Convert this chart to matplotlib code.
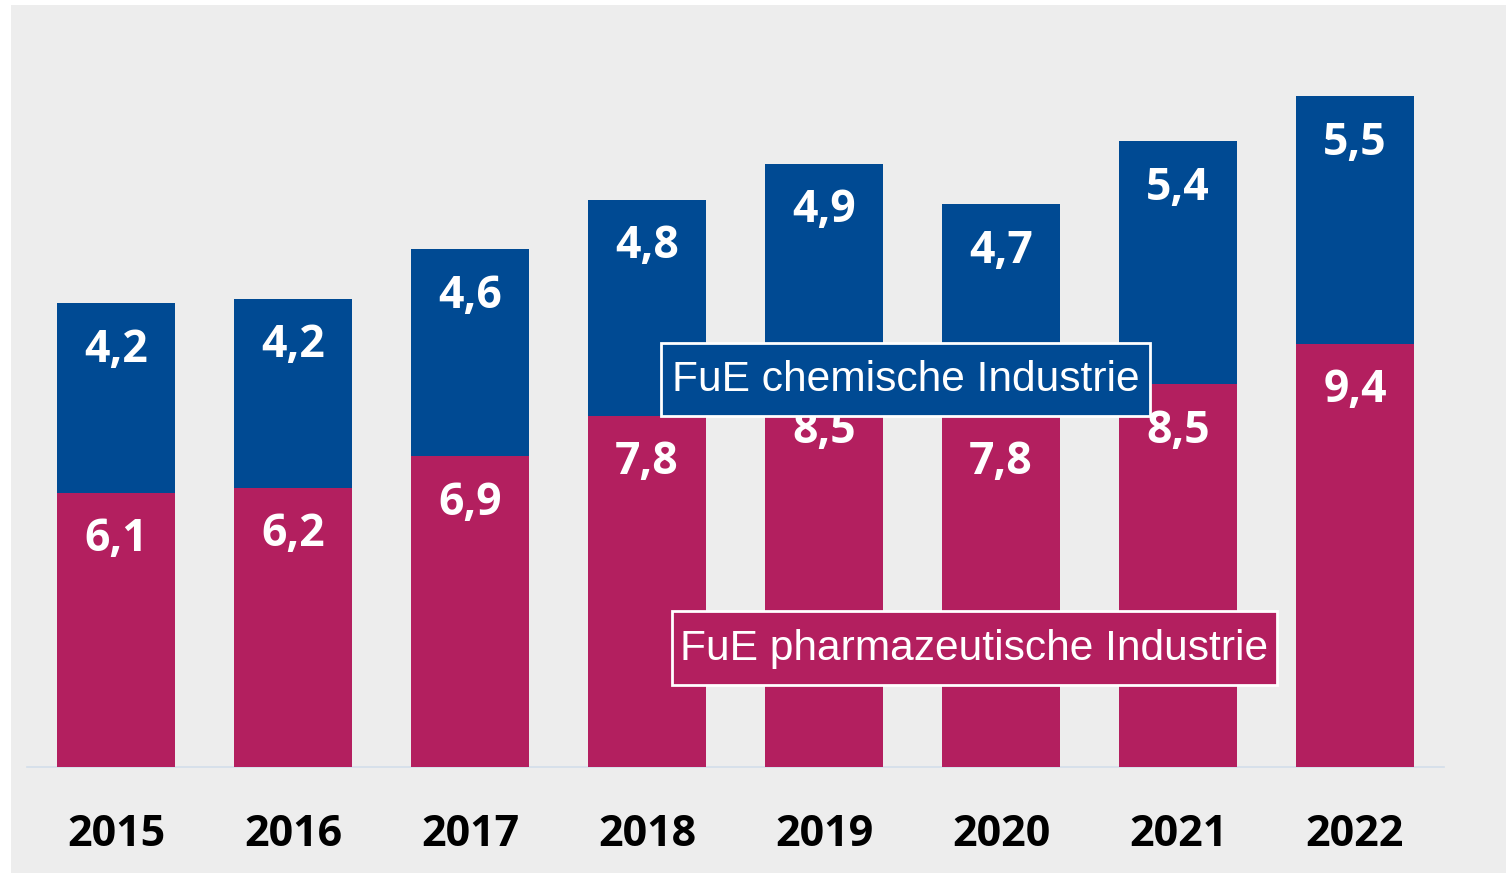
import matplotlib
matplotlib.use("Agg")
import matplotlib.pyplot as plt
from matplotlib.patches import Rectangle

years = ["2015", "2016", "2017", "2018", "2019", "2020", "2021", "2022"]
pharma = [6.1, 6.2, 6.9, 7.8, 8.5, 7.8, 8.5, 9.4]
chemie = [4.2, 4.2, 4.6, 4.8, 4.9, 4.7, 5.4, 5.5]
label_chemie = "FuE chemische Industrie"
label_pharma = "FuE pharmazeutische Industrie"

BLUE = "#004A93"
PINK = "#B31F5F"
BG = "#EDEDED"

W, H = 1506, 873
fig = plt.figure(figsize=(W / 100, H / 100), dpi=100, facecolor="white")
ax = fig.add_axes([11 / W, 0, 1 - 11 / W, 1 - 5 / H])
ax.set_facecolor(BG)
for s in ax.spines.values():
    s.set_visible(False)
ax.set_xticks([])
ax.set_yticks([])

px_unit = 45.0
spacing = 177.0
x0 = 116.0
ax.set_xlim((11 - x0) / spacing, (W - x0) / spacing)
ax.set_ylim((767 - H) / px_unit, (767 - 5) / px_unit)

def px(xp, yp):
    return (xp - x0) / spacing, (767 - yp) / px_unit

x = list(range(len(years)))
bw = 118 / spacing
ax.bar(x, pharma, width=bw, color=PINK, zorder=2)
ax.bar(x, chemie, width=bw, bottom=pharma, color=BLUE, zorder=2)
ax.plot([-0.5, len(years) - 0.5], [0, 0], color="#D3DEEA", lw=1.2, zorder=1)

BOLDFAM = ["Open Sans", "DejaVu Sans"]
off = 47 / px_unit
vfont = dict(family=BOLDFAM, fontsize=32, fontweight="bold",
             color="white", ha="center", va="center", zorder=3)
for i in x:
    ax.text(i, pharma[i] - off, f"{pharma[i]:.1f}".replace(".", ","), **vfont)
    top = pharma[i] + chemie[i]
    ax.text(i, top - off, f"{chemie[i]:.1f}".replace(".", ","), **vfont)
    ax.text(i, -68 / px_unit, years[i], family=BOLDFAM,
            fontsize=31, fontweight="bold", color="black", ha="center", va="center")

lfont = dict(family=["Liberation Sans", "DejaVu Sans"], fontsize=30.6, color="white",
             ha="center", va="center", zorder=5)

def box(x1, y1, x2, y2, fc, label):
    (a, b), (c, d) = px(x1, y2), px(x2, y1)
    ax.add_patch(Rectangle((a, b), c - a, d - b, fc=fc, ec="white", lw=2, zorder=4))
    cx, cy = px((x1 + x2) / 2, (y1 + y2) / 2 + 1)
    ax.text(cx, cy, label, **lfont)

box(661, 343, 1150, 416, BLUE, label_chemie)
box(672, 611, 1277, 685, PINK, label_pharma)

fig.savefig("out.png", dpi=100, facecolor="white")
